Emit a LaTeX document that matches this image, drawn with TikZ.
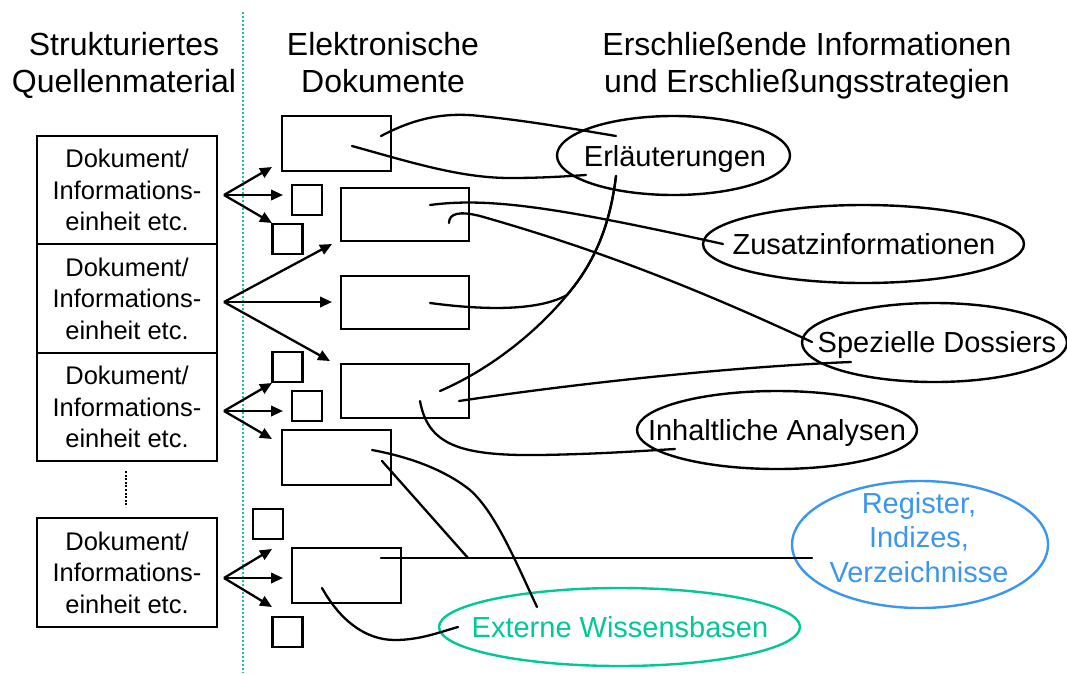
\documentclass[tikz,border=0pt]{standalone}
\usepackage{fontspec}
\setmainfont{Liberation Sans}
\usetikzlibrary{arrows.meta,shapes.geometric}
\definecolor{tealdot}{RGB}{20,200,160}
\definecolor{extgreen}{RGB}{0,200,150}
\definecolor{regblue}{RGB}{60,150,240}
\begin{document}
\begin{tikzpicture}[x=1pt,y=-1pt,
  src/.style={draw,line width=2.4pt,inner sep=0pt,minimum width=180pt,minimum height=108.5pt,align=center,font=\fontsize{25.5}{31.5}\selectfont},
  doc/.style={draw,line width=2.4pt,inner sep=0pt},
  sq/.style={draw,line width=2.4pt,inner sep=0pt,minimum width=30pt,minimum height=30pt},
  ell/.style={draw,ellipse,line width=2.4pt,inner sep=0pt},
  etxt/.style={anchor=base,inner sep=0pt,font=\fontsize{29}{34.5}\selectfont,align=center},
  head/.style={anchor=base,inner sep=0pt,font=\fontsize{32}{37}\selectfont,align=center},
  arr/.style={line width=2.3pt,-{Triangle[length=12pt,width=10.5pt]}},
  con/.style={line width=2.3pt,line cap=round}
]
\useasboundingbox (0,0) rectangle (1067,673);

% headers (base anchor = last line's baseline)
\node[head] (h1) at (124,92) {Strukturiertes\\Quellenmaterial};
\node[head] (h2) at (383,92) {Elektronische\\Dokumente};
\node[head] (h3) at (807,92) {Erschließende Informationen\\und Erschließungsstrategien};

% separator
\coordinate (septop) at (243,12);
\coordinate (sepbot) at (243,673);
\draw[tealdot,line width=2.2pt,dash pattern=on 2pt off 2pt] (septop) -- (sepbot);

% source boxes
\node[src] (q1) at (127,190) {Dokument/\\Informations-\\einheit etc.};
\node[src] (q2) at (127,298.5) {Dokument/\\Informations-\\einheit etc.};
\node[src] (q3) at (127,407) {Dokument/\\Informations-\\einheit etc.};
\node[src] (q4) at (127,572.5) {Dokument/\\Informations-\\einheit etc.};
\coordinate (dtop) at (126,471);
\coordinate (dbot) at (126,507);
\draw[line width=2pt,dash pattern=on 2pt off 1.6pt] (dtop) -- (dbot);

% electronic documents
\node[doc,minimum width=109pt,minimum height=55pt] (r1) at (336.5,143.5) {};
\node[doc,minimum width=128pt,minimum height=53pt] (r2) at (405,214.5) {};
\node[doc,minimum width=128pt,minimum height=53pt] (r3) at (405,302.5) {};
\node[doc,minimum width=128pt,minimum height=54pt] (r4) at (405,391) {};
\node[doc,minimum width=109pt,minimum height=55pt] (r5) at (336.5,457.5) {};
\node[doc,minimum width=109pt,minimum height=55pt] (r6) at (346.5,575.5) {};
\node[sq] (sa) at (307,200) {};
\node[sq] (sb) at (287.5,239) {};
\node[sq] (sc) at (287.5,367) {};
\node[sq] (sd) at (307,406) {};
\node[sq] (se) at (268,524) {};
\node[sq] (sf) at (287.5,632) {};

% arrows
\coordinate (o1) at (224,195);
\coordinate (o2) at (224,302);
\coordinate (o3) at (224,411);
\coordinate (o4) at (224,578);
\coordinate (t1a) at (272,167); \coordinate (t1b) at (283,195); \coordinate (t1c) at (272,223);
\coordinate (t2a) at (332,244); \coordinate (t2b) at (332,302); \coordinate (t2c) at (330,361);
\coordinate (t3a) at (272,383); \coordinate (t3b) at (283,411); \coordinate (t3c) at (272,439);
\coordinate (t4a) at (272,549); \coordinate (t4b) at (283,578); \coordinate (t4c) at (272,607);
\foreach \o/\t in {o1/t1a,o1/t1b,o1/t1c,o2/t2a,o2/t2b,o2/t2c,o3/t3a,o3/t3b,o3/t3c,o4/t4a,o4/t4b,o4/t4c}
  \draw[arr] (\o) -- (\t);

% ellipses
\node[ell,minimum width=233pt,minimum height=79pt] (erl) at (673.5,155.5) {};
\node[etxt] (erlt) at (675,166) {Erläuterungen};
\node[ell,minimum width=321pt,minimum height=78pt] (zus) at (863.5,244) {};
\node[etxt] (zust) at (864,254) {Zusatzinformationen};
\node[ell,minimum width=265pt,minimum height=79pt] (dos) at (934.5,342.5) {};
\node[etxt] (dost) at (937,352) {Spezielle Dossiers};
\node[ell,minimum width=280pt,minimum height=78pt] (inh) at (777,430) {};
\node[etxt] (inht) at (777,440) {Inhaltliche Analysen};
\node[ell,draw=regblue,minimum width=256pt,minimum height=127pt] (reg) at (920,544.5) {};
\node[etxt,text=regblue] (regt) at (919,582) {Register,\\Indizes,\\Verzeichnisse};
\node[ell,draw=extgreen,minimum width=361pt,minimum height=78pt] (ext) at (619.5,627) {};
\node[etxt,text=extgreen] (extt) at (620,637) {Externe Wissensbasen};

% connector end points
\coordinate (p1a) at (381,136);  \coordinate (p1b) at (616,136);
\coordinate (p2a) at (352,146);  \coordinate (p2b) at (586,175);
\coordinate (p3a) at (616,176);  \coordinate (br) at (567,295);
\coordinate (p3b) at (440,391);
\coordinate (p4a) at (430,303);
\coordinate (p5a) at (430,205);  \coordinate (p5b) at (723,244);
\coordinate (p6a) at (449,223);  \coordinate (p6b) at (812,342);
\coordinate (p7a) at (459,401);  \coordinate (p7b) at (851,362);
\coordinate (p8a) at (420,401);  \coordinate (p8b) at (675,449);
\coordinate (p9a) at (372,450);  \coordinate (p9b) at (537,607);
\coordinate (p10a) at (382,461); \coordinate (jn) at (468,558);
\coordinate (p11a) at (381,558); \coordinate (p11b) at (812,558);
\coordinate (p12a) at (322,588); \coordinate (p12b) at (458,627);

% connectors
\draw[con] (p1a) .. controls (415,118) and (445,112) .. (480,116) .. controls (530,121) and (580,130) .. (p1b);
\draw[con] (p2a) .. controls (410,162) and (460,178) .. (510,178) .. controls (545,178) and (570,176) .. (p2b);
\draw[con] (p3a) .. controls (610,225) and (595,262) .. (br) .. controls (545,322) and (500,365) .. (p3b);
\draw[con] (p4a) .. controls (490,311) and (540,310) .. (br) .. controls (595,262) and (610,225) .. (p3a);
\draw[con] (p5a) .. controls (490,197) and (560,208) .. (p5b);
\draw[con] (p6a) .. controls (449,213) and (460,211) .. (480,216) .. controls (600,250) and (700,290) .. (p6b);
\draw[con] (p7a) .. controls (600,380) and (750,366) .. (p7b);
\draw[con] (p8a) .. controls (428,445) and (460,456) .. (540,455) .. controls (600,454) and (640,451) .. (p8b);
\draw[con] (p9a) .. controls (410,457) and (445,470) .. (470,490) .. controls (495,512) and (515,560) .. (p9b);
\draw[con] (p10a) -- (jn);
\draw[con] (p11a) -- (p11b);
\draw[con] (p12a) .. controls (340,620) and (365,640) .. (395,640) .. controls (420,640) and (440,632) .. (p12b);
\end{tikzpicture}
\end{document}
